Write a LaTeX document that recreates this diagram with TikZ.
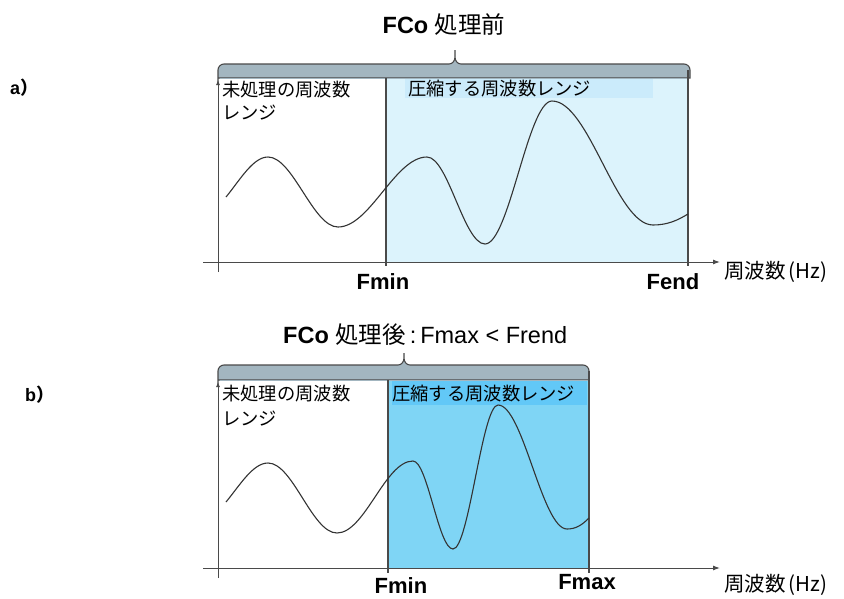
\documentclass[tikz,border=0pt]{standalone}
\usepackage{fontspec}
\setmainfont{Liberation Sans}
\newfontfamily\jp{Noto Sans CJK JP}
\usetikzlibrary{arrows.meta}
\definecolor{bracegray}{HTML}{A3B6C0}
\definecolor{edgegray}{HTML}{4A4A4A}
\definecolor{lightfill}{HTML}{DCF3FC}
\definecolor{lightlab}{HTML}{CBEBFB}
\definecolor{midfill}{HTML}{7FD5F5}
\definecolor{midlab}{HTML}{62C8F7}
\tikzset{
  ax/.style={draw=edgegray, line width=1pt, -{Latex[length=7pt,width=5pt]}},
  yax/.style={draw=edgegray, line width=1pt, -{Latex[length=5pt,width=4pt]}},
  wave/.style={draw=black!80, line width=1.1pt},
  bracestyle/.style={draw=edgegray, line width=1.1pt, fill=bracegray},
  jptxt/.style={font=\jp\fontsize{18.3}{22}\selectfont, inner sep=0pt},
  hztxt/.style={font=\jp\fontsize{20.5}{24}\selectfont, inner sep=0pt},
  ftxt/.style={font=\bfseries\fontsize{22}{26}\selectfont, inner sep=0pt},
  title/.style={font=\fontsize{23.5}{28}\selectfont, inner sep=0pt},
  panel/.style={font=\bfseries\fontsize{18}{22}\selectfont, inner sep=0pt},
  divline/.style={draw=edgegray, line width=1.1pt},
}
\begin{document}
\begin{tikzpicture}[x=1pt,y=-1pt]
\useasboundingbox (0,0) rectangle (844,598);

% ================= panel a =================
\node[panel, anchor=west] (la) at (10,88) {a\jp）};
\node[title] (ta) at (444,25) {\textbf{FCo} {\jp 処理前}};

% fills
\fill[lightfill] (386,78) rectangle (688,262);
\fill[lightlab] (405,78) rectangle (653,98);
% brace
\path[bracestyle] (218,84) -- (218,70) to[out=90,in=180] (224,64) -- (449,64)
   to[out=0,in=-90] (455,57) -- (455,50) -- (455,57) to[out=-90,in=180] (461,64)
   -- (684,64) to[out=0,in=90] (690,70) -- (690,78) -- (218,78) -- cycle;
\draw[draw=bracegray, line width=1pt] (219.5,78) -- (688.5,78);
% dividers
\coordinate (a-fmin-top) at (386,78);
\coordinate (a-fmin-bot) at (386,266);
\coordinate (a-fend-top) at (688,70);
\coordinate (a-fend-bot) at (688,266);
\draw[divline] (a-fmin-top) -- (a-fmin-bot);
\draw[divline] (a-fend-top) -- (a-fend-bot);
% axes
\coordinate (a-x0) at (203,262);
\coordinate (a-x1) at (720,262);
\coordinate (a-y0) at (218,272);
\coordinate (a-y1) at (218,80);
\draw[ax] (a-x0) -- (a-x1);
\draw[yax] (a-y0) -- (a-y1);
% texts
\node[jptxt, anchor=west] (a-un1) at (222,90) {未処理の周波数};
\node[jptxt, anchor=west] (a-un2) at (222,113) {レンジ};
\node[jptxt, anchor=west] (a-comp) at (408,89) {圧縮する周波数レンジ};
\node[ftxt] (a-fmin) at (383,282) {Fmin};
\node[ftxt] (a-fend) at (673,282) {Fend};
\node[hztxt, anchor=west] (a-hz) at (724,272) {周波数\hspace{3pt}(Hz)};
% wave
\draw[wave] (226,197) .. controls (240,180) and (253,157) .. (268,157)
  .. controls (293,157) and (313,227) .. (338,227)
  .. controls (370,227) and (395,157) .. (427,157)
  .. controls (448,157) and (464,244) .. (485,244)
  .. controls (509,244) and (528,101) .. (552,101)
  .. controls (589,101) and (616,225) .. (653,225)
  .. controls (668,225) and (678,220) .. (688,214);

% ================= panel b =================
\node[panel, anchor=west] (lb) at (25,395) {b\jp）};
\node[title, anchor=west] (tb) at (283,335) {\textbf{FCo} {\jp 処理後}\,:\,Fmax < Frend};

\fill[midfill] (388,381) rectangle (589,569);
\fill[midlab] (392,381) rectangle (587,405);
\path[bracestyle] (218,386) -- (218,371) to[out=90,in=180] (224,365) -- (398,365)
   to[out=0,in=-90] (404,358) -- (404,353) -- (404,358) to[out=-90,in=180] (410,365)
   -- (583,365) to[out=0,in=90] (589,371) -- (589,380) -- (218,380) -- cycle;
\draw[draw=bracegray, line width=1pt] (219.5,380) -- (587.5,380);
\coordinate (b-fmin-top) at (388,380);
\coordinate (b-fmin-bot) at (388,573);
\coordinate (b-fmax-top) at (589,371);
\coordinate (b-fmax-bot) at (589,573);
\draw[divline] (b-fmin-top) -- (b-fmin-bot);
\draw[divline] (b-fmax-top) -- (b-fmax-bot);
\coordinate (b-x0) at (203,568);
\coordinate (b-x1) at (720,568);
\coordinate (b-y0) at (218,578);
\coordinate (b-y1) at (218,382);
\draw[ax] (b-x0) -- (b-x1);
\draw[yax] (b-y0) -- (b-y1);
\node[jptxt, anchor=west] (b-un1) at (222,394) {未処理の周波数};
\node[jptxt, anchor=west] (b-un2) at (222,419) {レンジ};
\node[jptxt, anchor=west] (b-comp) at (392,394) {圧縮する周波数レンジ};
\node[ftxt] (b-fmin) at (401,586) {Fmin};
\node[ftxt] (b-fmax) at (587,582) {Fmax};
\node[hztxt, anchor=west] (b-hz) at (724,585) {周波数\hspace{3pt}(Hz)};
\draw[wave] (226,502) .. controls (240,485) and (253,463) .. (268,463)
  .. controls (293,463) and (312,533) .. (337,533)
  .. controls (365,533) and (385,461) .. (413,461)
  .. controls (427.5,461) and (438.5,549) .. (453,549)
  .. controls (469,549) and (482,405) .. (498,405)
  .. controls (523,405) and (542,529) .. (567,529)
  .. controls (576,529) and (582,525) .. (589,518);
\end{tikzpicture}
\end{document}
